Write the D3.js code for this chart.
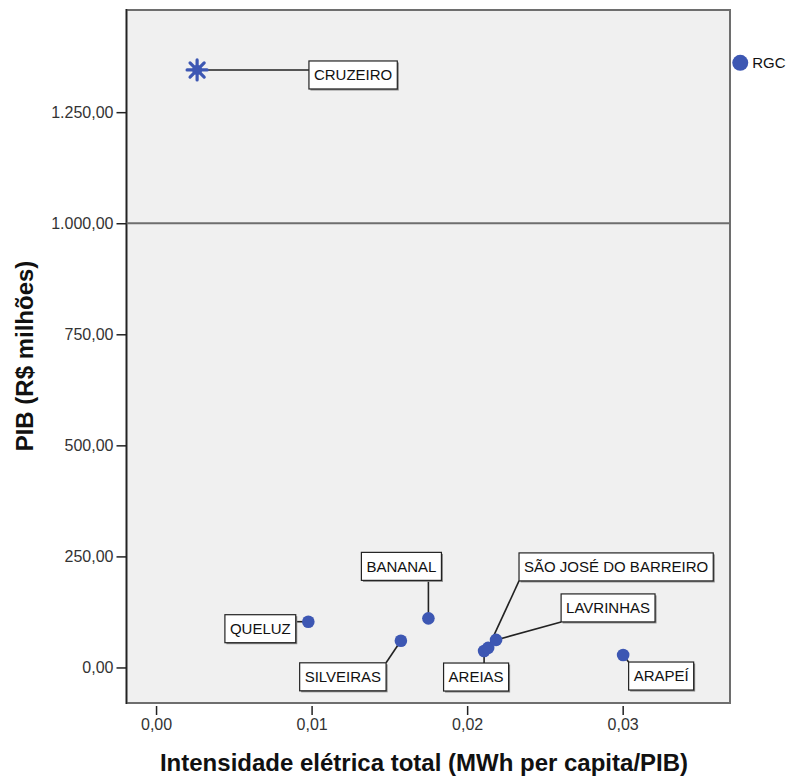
<!DOCTYPE html>
<html><head><meta charset="utf-8">
<script src="https://cdn.jsdelivr.net/npm/d3@7"></script>
<style>
html,body{margin:0;padding:0;background:#fff;}
text{font-family:"Liberation Sans",Arial,sans-serif;}
</style></head>
<body>
<svg id="chart" width="791" height="780"></svg>
<script>
// ---- data ----
const municipios = ["CRUZEIRO","RGC","QUELUZ","BANANAL","SILVEIRAS","AREIAS","SÃO JOSÉ DO BARREIRO","LAVRINHAS","ARAPEÍ"];
const intensidade = [0.00264, 0.03756, 0.00979, 0.01751, 0.01574, 0.02109, 0.02135, 0.02186, 0.03003];
const pib = [1345, 1361, 103, 110.5, 60, 37, 44, 62, 28];
const xTicks = [0, 0.01, 0.02, 0.03];
const yTicks = [0, 250, 500, 750, 1000, 1250];
const refLineValue = 1000;
// label box offsets (pixels, box centre relative to point)
const labelOffsets = [[156,5],[0,0],[-48,7],[-27,-52],[-58,36],[-8,26],[128,-81],[112,-32],[38,21]];

const svg = d3.select("#chart");
const pLeft = 126.5, pRight = 730, pTop = 10, pBottom = 703;
const x = d3.scaleLinear().domain([-0.0019, 0.0369]).range([pLeft, pRight]);
const y = d3.scaleLinear().domain([-80, 1480]).range([pBottom, pTop]);
const fmtX = v => d3.format(".2f")(v).replace(".", ",");
const fmtY = v => { const s = d3.format(",.2f")(v); return s.replace(/,/g,"#").replace(".",",").replace(/#/g,"."); };

// plot background / frame
svg.append("rect").attr("x",pLeft).attr("y",pTop).attr("width",pRight-pLeft).attr("height",pBottom-pTop)
  .attr("fill","#f0f0f0").attr("stroke","#6e6e6e").attr("stroke-width",2);
svg.append("line").attr("x1",pLeft).attr("x2",pLeft).attr("y1",pTop-1).attr("y2",pBottom+1)
  .attr("stroke","#222").attr("stroke-width",1.5);

// reference line
svg.append("line").attr("x1",pLeft).attr("x2",pRight).attr("y1",y(refLineValue)).attr("y2",y(refLineValue))
  .attr("stroke","#6e6e6e").attr("stroke-width",2);

// axes
const yAxis = svg.append("g").attr("transform",`translate(${pLeft},0)`)
  .call(d3.axisLeft(y).tickValues(yTicks).tickFormat(fmtY).tickSize(10).tickPadding(3));
yAxis.select(".domain").remove();
yAxis.selectAll(".tick line").attr("stroke","#222").attr("stroke-width",1.5);
yAxis.selectAll(".tick text").attr("font-size",16).attr("fill","#333");

const xAxis = svg.append("g").attr("transform",`translate(0,${pBottom+3})`)
  .call(d3.axisBottom(x).tickValues(xTicks).tickFormat(fmtX).tickSize(9).tickPadding(4));
xAxis.select(".domain").remove();
xAxis.selectAll(".tick line").attr("stroke","#222").attr("stroke-width",1.5);
xAxis.selectAll(".tick text").attr("font-size",16).attr("fill","#333");

// titles
svg.append("text").attr("x",424).attr("y",771).attr("text-anchor","middle")
  .attr("font-size",24).attr("font-weight","bold").attr("fill","#111")
  .text("Intensidade elétrica total (MWh per capita/PIB)");
svg.append("text").attr("transform","translate(33,356) rotate(-90)").attr("text-anchor","middle")
  .attr("font-size",24).attr("font-weight","bold").attr("fill","#111")
  .text("PIB (R$ milhões)");

const color = "#3d57b3";
const pts = municipios.map((m,i)=>({name:m, px:x(intensidade[i]), py:y(pib[i]), off:labelOffsets[i], i}));

// labels (boxes + leader lines)
const gLab = svg.append("g");
pts.forEach(p=>{
  if (p.name === "RGC") return;
  const cx = p.px + p.off[0], cy = p.py + p.off[1];
  const t = gLab.append("text").attr("font-size",15).attr("fill","#111").attr("text-anchor","middle")
     .attr("x",cx).attr("y",cy+5.3).text(p.name);
  const w = t.node().getComputedTextLength() + 10, h = 28;
  const bx = cx - w/2, by = cy - h/2;
  const ex = Math.max(bx, Math.min(bx+w, p.px)), ey = Math.max(by, Math.min(by+h, p.py));
  gLab.insert("line","text").attr("x1",p.px).attr("y1",p.py).attr("x2",ex).attr("y2",ey)
     .attr("stroke","#222").attr("stroke-width",1.6);
  gLab.insert("rect","text").attr("x",bx+1.5).attr("y",by+1.5).attr("width",w).attr("height",h)
     .attr("fill","#888");
  gLab.insert("rect","text").attr("x",bx).attr("y",by).attr("width",w).attr("height",h)
     .attr("fill","#fff").attr("stroke","#222").attr("stroke-width",1.2);
});

// points
pts.forEach(p=>{
  if (p.name === "CRUZEIRO") {
    const g = svg.append("g").attr("transform",`translate(${p.px},${p.py})`);
    const r = 10;
    for (let k=0;k<4;k++){
      const a = k*Math.PI/4;
      g.append("line").attr("x1",-r*Math.cos(a)).attr("y1",-r*Math.sin(a))
        .attr("x2",r*Math.cos(a)).attr("y2",r*Math.sin(a))
        .attr("stroke",color).attr("stroke-width",3.2).attr("stroke-linecap","round");
    }
    g.append("circle").attr("r",5).attr("fill",color);
  } else {
    const outside = p.px > pRight;
    svg.append("circle").attr("cx",p.px).attr("cy",p.py).attr("r", outside ? 8 : 6.3).attr("fill",color);
    if (outside) {
      svg.append("text").attr("x",p.px+12).attr("y",p.py+5.5).attr("font-size",15).attr("fill","#111").text(p.name);
    }
  }
});
</script>
</body></html>
